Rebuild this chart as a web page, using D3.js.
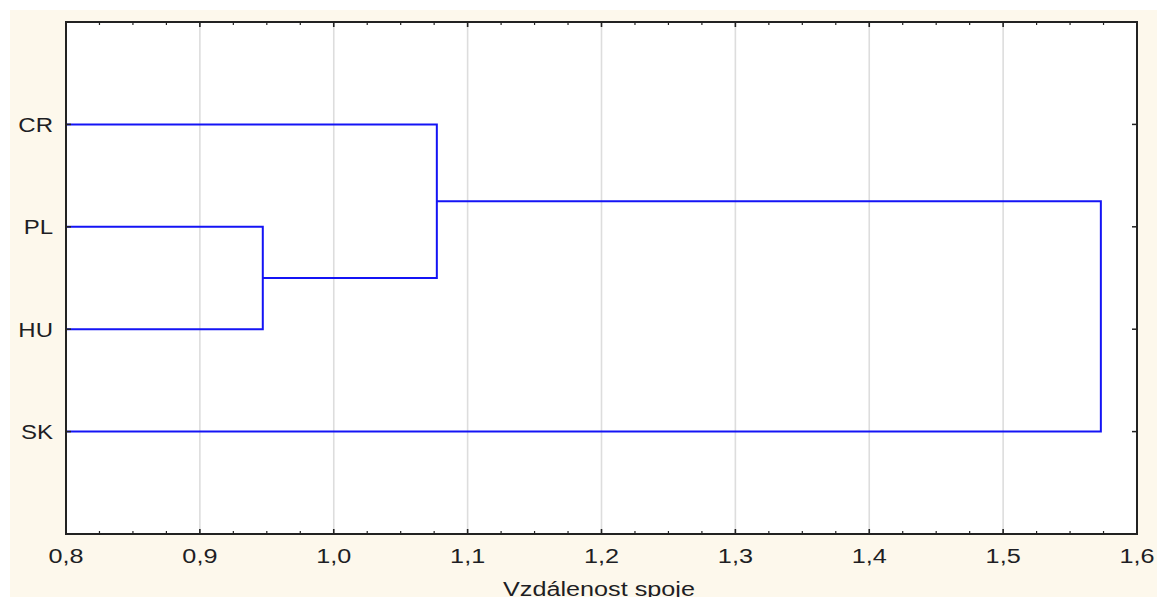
<!DOCTYPE html>
<html>
<head>
<meta charset="utf-8">
<script src="https://cdn.jsdelivr.net/npm/d3@7"></script>
<style>
  html, body { margin: 0; padding: 0; background: #ffffff; }
  svg { display: block; }
  text { font-family: "Liberation Sans", Arial, sans-serif; fill: #1e1e24; }
</style>
</head>
<body>
<svg id="chart" width="1157" height="598"></svg>
<script>
// Leaf order (top to bottom) and the agglomeration steps of the tree
const leaves = ["CR", "PL", "HU", "SK"];
const joinA = ["PL", "CR", "SK"];
const joinB = ["HU", "PL+HU", "CR+PL+HU"];
const joinName = ["PL+HU", "CR+PL+HU", "ALL"];
const joinDist = [0.947, 1.077, 1.573];

const xTicks = [0.8, 0.9, 1.0, 1.1, 1.2, 1.3, 1.4, 1.5, 1.6];
const xMinorTicks = d3.range(0, 33).map(i => 0.8 + i * 0.025);
const xTitle = "Vzdálenost spoje";

const W = 1157, H = 598;
const plot = { left: 66, top: 22, right: 1137, bottom: 534 };

const svg = d3.select("#chart");

// cream page background (clipped at the bottom, as is the axis title)
svg.append("defs").append("clipPath").attr("id", "page")
  .append("rect").attr("x", 10).attr("y", 10).attr("width", W - 10).attr("height", 587);

const page = svg.append("g").attr("clip-path", "url(#page)");
page.append("rect").attr("x", 10).attr("y", 10).attr("width", W - 10).attr("height", 587)
  .attr("fill", "#fdf8ec");

const x = d3.scaleLinear().domain([0.8, 1.6]).range([plot.left, plot.right]);
const y = d3.scalePoint().domain(["", ...leaves, " "]).range([plot.top, plot.bottom]);

// plot area
page.append("rect")
  .attr("x", plot.left).attr("y", plot.top)
  .attr("width", plot.right - plot.left).attr("height", plot.bottom - plot.top)
  .attr("fill", "#ffffff");

// vertical grid lines
page.append("g").selectAll("line")
  .data(xTicks.slice(1, -1))
  .join("line")
  .attr("x1", d => x(d)).attr("x2", d => x(d))
  .attr("y1", plot.top).attr("y2", plot.bottom)
  .attr("stroke", "#dddddd").attr("stroke-width", 1.6);

// dendrogram links
const nodes = {};
leaves.forEach(l => { nodes[l] = { d: 0.8, y: y(l) }; });
const links = page.append("g")
  .attr("fill", "none").attr("stroke", "#1414f5").attr("stroke-width", 2);
joinDist.forEach((dist, i) => {
  const a = nodes[joinA[i]], b = nodes[joinB[i]];
  const p = d3.path();
  p.moveTo(x(a.d), a.y);
  p.lineTo(x(dist), a.y);
  p.lineTo(x(dist), b.y);
  p.lineTo(x(b.d), b.y);
  links.append("path").attr("d", p.toString());
  nodes[joinName[i]] = { d: dist, y: (a.y + b.y) / 2 };
});

// axes with inward ticks
const axisG = page.append("g").attr("stroke", "#222222");
const isMajor = v => xTicks.some(t => Math.abs(t - v) < 1e-9);
axisG.selectAll("line.tb")
  .data(xMinorTicks.flatMap(v => [{ v, side: "top" }, { v, side: "bottom" }]))
  .join("line")
  .attr("class", "tb")
  .attr("x1", d => x(d.v)).attr("x2", d => x(d.v))
  .attr("y1", d => d.side === "top" ? plot.top : plot.bottom)
  .attr("y2", d => {
    const len = isMajor(d.v) ? 5 : 3;
    return d.side === "top" ? plot.top + len : plot.bottom - len;
  })
  .attr("stroke-width", d => isMajor(d.v) ? 1.6 : 1.2);

axisG.selectAll("line.lr")
  .data(leaves.flatMap(l => [{ l, side: "left" }, { l, side: "right" }]))
  .join("line")
  .attr("class", "lr")
  .attr("y1", d => y(d.l)).attr("y2", d => y(d.l))
  .attr("x1", d => d.side === "left" ? plot.left : plot.right)
  .attr("x2", d => d.side === "left" ? plot.left + 5 : plot.right - 5)
  .attr("stroke-width", 1.5);

axisG.append("rect")
  .attr("x", plot.left).attr("y", plot.top)
  .attr("width", plot.right - plot.left).attr("height", plot.bottom - plot.top)
  .attr("fill", "none").attr("stroke-width", 2);

// labels
const fmt = v => d3.format(".1f")(v).replace(".", ",");
page.append("g").selectAll("text")
  .data(xTicks)
  .join("text")
  .attr("transform", d => `translate(${x(d)},${563}) scale(1.2,1)`)
  .attr("text-anchor", "middle")
  .attr("font-size", 21)
  .text(fmt);

page.append("g").selectAll("text")
  .data(leaves)
  .join("text")
  .attr("transform", d => `translate(53,${y(d) + 7.5}) scale(1.2,1)`)
  .attr("text-anchor", "end")
  .attr("font-size", 20)
  .text(d => d);

page.append("text")
  .attr("transform", `translate(599,596) scale(1.2,1)`)
  .attr("text-anchor", "middle")
  .attr("font-size", 21)
  .text(xTitle);
</script>
</body>
</html>
